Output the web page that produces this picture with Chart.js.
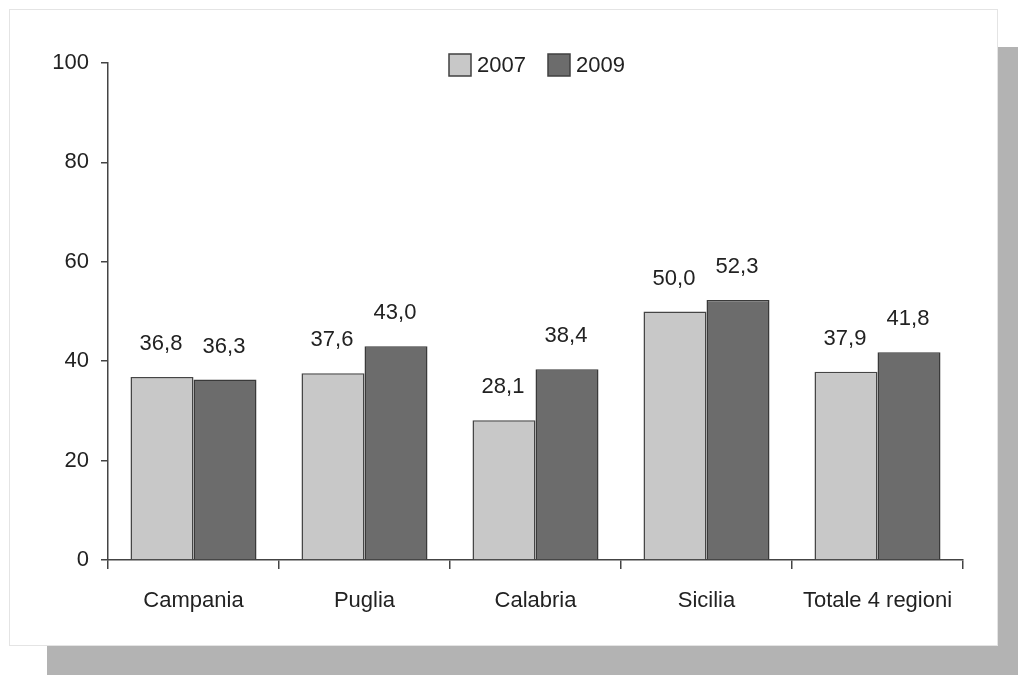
<!DOCTYPE html>
<html>
<head>
<meta charset="utf-8">
<script src="https://cdn.jsdelivr.net/npm/chart.js@4/dist/chart.umd.min.js"></script>
<style>
html,body{margin:0;padding:0;background:#fff;width:1018px;height:675px;overflow:hidden;}
#shadow{position:absolute;left:47px;top:47px;width:971px;height:628px;background:#b3b3b3;}
#panel{position:absolute;left:10px;top:10px;width:987px;height:635px;background:#fff;box-shadow:0 0 0 1px #e4e4e4;}
canvas{display:block;}
</style>
</head>
<body>
<div id="shadow"></div>
<div id="panel"><canvas id="c" width="987" height="635"></canvas></div>
<script>
const categories = ["Campania", "Puglia", "Calabria", "Sicilia", "Totale 4 regioni"];
const values2007 = [36.8, 37.6, 28.1, 50.0, 37.9];
const values2009 = [36.3, 43.0, 38.4, 52.3, 41.8];
const seriesLabels = ["2007", "2009"];
const yTicks = [0, 20, 40, 60, 80, 100];

const FONT = "'Liberation Sans', Arial, sans-serif";
const TXT = "#222222";
const FS = 22;

const labelPlugin = {
  id: 'valueLabels',
  afterDatasetsDraw(chart) {
    const ctx = chart.ctx;
    ctx.save();
    ctx.font = FS + "px " + FONT;
    ctx.fillStyle = TXT;
    ctx.textAlign = 'center';
    ctx.textBaseline = 'middle';
    chart.data.datasets.forEach((ds, i) => {
      const meta = chart.getDatasetMeta(i);
      meta.data.forEach((bar, j) => {
        const v = ds.data[j];
        ctx.fillText(v.toFixed(1).replace('.', ','), bar.x - 1, bar.y - 33);
      });
    });
    ctx.restore();
  }
};

const legendPlugin = {
  id: 'customLegend',
  afterDraw(chart) {
    const ctx = chart.ctx;
    ctx.save();
    ctx.font = FS + "px " + FONT;
    ctx.textBaseline = 'middle';
    ctx.textAlign = 'left';
    const xs = [439, 538];
    const cy = 55;
    chart.data.datasets.forEach((ds, i) => {
      const x = xs[i];
      ctx.fillStyle = ds.backgroundColor;
      ctx.fillRect(x, cy - 11, 22, 22);
      ctx.strokeStyle = '#404040';
      ctx.lineWidth = 1.5;
      ctx.strokeRect(x, cy - 11, 22, 22);
      ctx.fillStyle = TXT;
      ctx.fillText(ds.label, x + 28, cy + 1);
    });
    ctx.restore();
  }
};

new Chart(document.getElementById('c'), {
  type: 'bar',
  data: {
    labels: categories,
    datasets: [
      { label: seriesLabels[0], data: values2007, backgroundColor: '#c8c8c8', borderColor: '#454545', borderWidth: 1.5 },
      { label: seriesLabels[1], data: values2009, backgroundColor: '#6c6c6c', borderColor: '#3a3a3a', borderWidth: 1.5 }
    ]
  },
  options: {
    responsive: false,
    animation: false,
    devicePixelRatio: 1,
    layout: { padding: { left: 0, top: 53, right: 34, bottom: 0 } },
    plugins: { legend: { display: false }, tooltip: { enabled: false } },
    datasets: { bar: { categoryPercentage: 0.737, barPercentage: 1.0 } },
    scales: {
      x: {
        afterFit(s) { s.height = 85; },
        grid: { display: true, drawOnChartArea: false, drawTicks: true, tickLength: 9, color: '#444', lineWidth: 1.5, offset: true },
        border: { display: true, color: '#444', width: 1.5 },
        ticks: { font: { family: FONT, size: FS }, color: TXT, padding: 19, maxRotation: 0 }
      },
      y: {
        min: 0, max: 100,
        afterFit(s) { s.width = 98; },
        afterBuildTicks(s) { s.ticks = yTicks.map(v => ({ value: v })); },
        grid: { display: true, drawOnChartArea: false, drawTicks: true, tickLength: 7, color: '#444', lineWidth: 1.5 },
        border: { display: true, color: '#444', width: 1.5 },
        ticks: { font: { family: FONT, size: FS }, color: TXT, padding: 12 }
      }
    }
  },
  plugins: [labelPlugin, legendPlugin]
});
</script>
</body>
</html>
